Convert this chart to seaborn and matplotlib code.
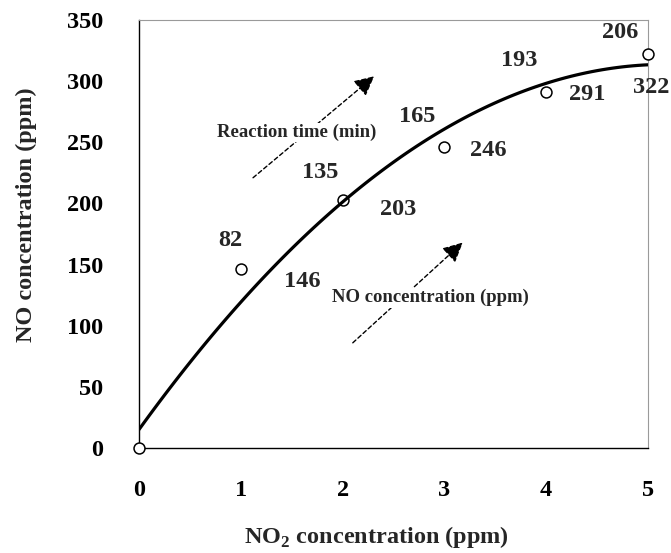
import numpy as np
import pandas as pd
import matplotlib
matplotlib.use("Agg")
import matplotlib.pyplot as plt
import seaborn as sns

# Measured NO / NO2 equilibrium points
no2_ppm = [0, 1, 2, 3, 4, 5]
no_ppm = [0, 146, 203, 246, 291, 322]
reaction_min = [82, 135, 165, 193, 206]          # for NO2 = 1..5 ppm

# Label anchors (data coordinates)
time_label_x = [0.90, 1.78, 2.73, 3.73, 4.73]
time_label_y = [170, 225, 271, 317, 340]
conc_label_x = [1.60, 2.55, 3.43, 4.40, 5.03]
conc_label_y = [136, 195, 243, 289, 295]

x_ticks = [0, 1, 2, 3, 4, 5]
y_ticks = [0, 50, 100, 150, 200, 250, 300, 350]

sns.set_style("white")
plt.rcParams["font.family"] = ["Liberation Serif", "DejaVu Serif"]
plt.rcParams["font.weight"] = "bold"
plt.rcParams["mathtext.fontset"] = "custom"
plt.rcParams["mathtext.rm"] = "Liberation Serif:bold"
plt.rcParams["mathtext.bf"] = "Liberation Serif:bold"

df = pd.DataFrame({"no2": no2_ppm, "no": no_ppm})

fig = plt.figure(figsize=(6.71, 5.53), dpi=100)
ax = fig.add_axes([0.2072, 0.1899, 0.7585, 0.7739])

# second-order fit through the measurements
sns.regplot(data=df, x="no2", y="no", order=2, ci=None, scatter=False,
            color="black", line_kws={"lw": 2.3, "zorder": 4}, ax=ax)
sns.scatterplot(data=df, x="no2", y="no", marker="o", s=62,
                facecolor="white", edgecolor="black", linewidth=1.1,
                zorder=3, clip_on=False, legend=False, ax=ax)

ax.set_xlim(0, 5)
ax.set_ylim(0, 350)
ax.set_xticks(x_ticks)
ax.set_yticks(y_ticks)
ax.tick_params(axis="both", direction="in", length=5, width=0.8,
               labelsize=17.5, colors="black")
ax.tick_params(axis="x", pad=23)
ax.tick_params(axis="y", pad=26)
for lab in ax.get_xticklabels() + ax.get_yticklabels():
    lab.set_fontweight("bold")

for side in ("left", "bottom"):
    ax.spines[side].set_color("black")
    ax.spines[side].set_linewidth(1.0)
for side in ("top", "right"):
    ax.spines[side].set_color("#9a9a9a")
    ax.spines[side].set_linewidth(0.8)

ax.set_xlabel(r"NO$_{2}$ concentration (ppm)", fontsize=17.5, fontweight="bold")
ax.set_ylabel("NO concentration (ppm)", fontsize=17.5, fontweight="bold")
ax.xaxis.set_label_coords(0.467, -0.178)
ax.yaxis.set_label_coords(-0.200, 0.545)

# reaction time above, NO concentration below each point
for tx, ty, t in zip(time_label_x, time_label_y, reaction_min):
    ax.text(tx, ty, str(t), ha="center", va="center", fontsize=17.5,
            fontweight="bold", zorder=5)
for cx, cy, c in zip(conc_label_x, conc_label_y, no_ppm[1:]):
    ax.text(cx, cy, str(c), ha="center", va="center", fontsize=17.5,
            fontweight="bold", zorder=5, clip_on=False)

# dashed direction arrows with captions
arrow_kw = dict(arrowstyle="-|>", color="black", lw=1.0,
                linestyle=(0, (3, 2)), mutation_scale=30,
                shrinkA=0, shrinkB=0)
ax.annotate("", xy=(2.31, 304), xytext=(1.12, 221), arrowprops=arrow_kw, zorder=2)
ax.annotate("", xy=(3.18, 168), xytext=(2.10, 86), arrowprops=arrow_kw, zorder=2)

box = dict(facecolor="white", edgecolor="none", pad=1.0)
ax.text(1.55, 258, "Reaction time (min)", ha="center", va="center",
        fontsize=13.5, fontweight="bold", bbox=box, zorder=5)
ax.text(2.86, 123, "NO concentration (ppm)", ha="center", va="center",
        fontsize=13.5, fontweight="bold", bbox=box, zorder=5)

fig.savefig("out.png", dpi=100)
